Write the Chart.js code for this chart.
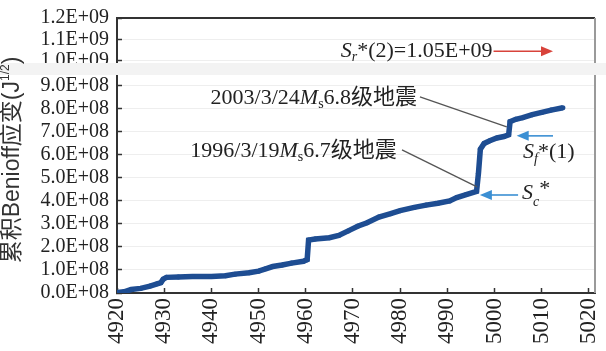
<!DOCTYPE html>
<html>
<head>
<meta charset="utf-8">
<title>累积Benioff应变</title>
<script src="https://cdn.jsdelivr.net/npm/chart.js@4.4.0/dist/chart.umd.min.js"></script>
<style>
	html, body { margin: 0; padding: 0; background: #fff; }
</style>
</head>
<body>
<canvas id="myChart" width="606" height="351"></canvas>
<script>
// data (strain in units of 1E+08)
const years = [4920.0, 4921.5, 4923.0, 4925.0, 4927.0, 4928.5, 4929.3, 4929.8, 4930.5, 4933.0,
	4936.0, 4940.0, 4943.0, 4945.0, 4948.0, 4950.0, 4951.5, 4953.0, 4955.0, 4957.0,
	4959.5, 4960.3, 4960.6, 4962.0, 4965.0, 4967.0, 4969.0, 4971.0, 4973.0, 4975.5,
	4978.0, 4980.0, 4983.0, 4985.5, 4988.0, 4990.5, 4992.0, 4994.0, 4996.2, 4996.6,
	4997.0, 4997.8, 4999.0, 5000.5, 5002.0, 5003.0, 5003.3, 5004.5, 5006.0, 5008.0,
	5010.0, 5012.0, 5014.5];
const strain = [0.02, 0.05, 0.15, 0.20, 0.30, 0.40, 0.45, 0.60, 0.68, 0.70,
	0.72, 0.72, 0.75, 0.82, 0.88, 0.95, 1.05, 1.15, 1.22, 1.30,
	1.38, 1.45, 2.30, 2.35, 2.40, 2.50, 2.70, 2.90, 3.05, 3.30,
	3.45, 3.58, 3.72, 3.82, 3.90, 4.00, 4.15, 4.28, 4.42, 5.20,
	6.25, 6.50, 6.62, 6.74, 6.80, 6.88, 7.45, 7.55, 7.62, 7.75,
	7.85, 7.95, 8.05];
const xTicks = [4920, 4930, 4940, 4950, 4960, 4970, 4980, 4990, 5000, 5010, 5020];
const lowTicks = [0, 1, 2, 3, 4, 5, 6, 7, 8, 9];
const topTicks = [10, 11, 12];

// annotations, in data units
const quakes = [
	{ date: '2003/3/24', mag: '6.8', textX: 4983.6, textY: 8.48, fromX: 4984.2, fromY: 8.52, toX: 5002.6, toY: 7.22 },
	{ date: '1996/3/19', mag: '6.7', textX: 4979.3, textY: 6.17, fromX: 4980.4, fromY: 6.22, toX: 4996.3, toY: 4.61 }
];
const sfArrow = { from: 5012.4, to: 5004.7, y: 6.83 };
const scArrow = { from: 5005.0, to: 4996.9, y: 4.26 };
const srArrow = { from: 4999.8, to: 5012.4, y: 10.45, label: '*(2)=1.05E+09' };

const serif = '"Liberation Serif", "Noto Sans CJK SC", serif';
const sans = '"Liberation Sans", "Noto Sans CJK SC", sans-serif';
function f (size, style) { return (style || '') + ' ' + size + 'px ' + serif; }

// draws pieces of text one after the other: [text, font, dy]
function drawRich (ctx, x, y, parts, align) {
	let w = 0;
	parts.forEach(p => { ctx.font = p[1]; w += ctx.measureText(p[0]).width; });
	let cx = align == 'right' ? x - w : x;
	parts.forEach(p => {
		ctx.font = p[1];
		ctx.fillText(p[0], cx, y + (p[2] || 0));
		cx += ctx.measureText(p[0]).width;
	});
}

function arrow (ctx, x1, y1, x2, y2, color) {
	ctx.strokeStyle = color;
	ctx.fillStyle = color;
	ctx.lineWidth = 1.6;
	const dir = x2 > x1 ? 1 : -1;
	ctx.beginPath();
	ctx.moveTo(x1, y1);
	ctx.lineTo(x2 - dir * 10, y2);
	ctx.stroke();
	ctx.beginPath();
	ctx.moveTo(x2, y2);
	ctx.lineTo(x2 - dir * 12, y2 - 5);
	ctx.lineTo(x2 - dir * 12, y2 + 5);
	ctx.closePath();
	ctx.fill();
}

// no extra padding from the scales, the layout padding alone places the plot
function noPad (s) {
	s.paddingTop = 0;
	s.paddingBottom = 0;
	s.paddingLeft = 0;
	s.paddingRight = 0;
}

const extras = {
	id: 'extras',
	afterDraw (chart) {
		const ctx = chart.ctx;
		const area = chart.chartArea;
		const x = chart.scales.x, y = chart.scales.y, yt = chart.scales.yTop;
		ctx.save();

		// frame: top line and grey right edge
		ctx.strokeStyle = '#333';
		ctx.lineWidth = 2;
		ctx.beginPath();
		ctx.moveTo(area.left - 1, area.top);
		ctx.lineTo(area.right, area.top);
		ctx.stroke();
		ctx.strokeStyle = '#9a9a9a';
		ctx.beginPath();
		ctx.moveTo(area.right, area.top);
		ctx.lineTo(area.right, area.bottom);
		ctx.stroke();

		// axis break band
		ctx.fillStyle = '#f3f3f3';
		ctx.fillRect(0, yt.bottom - 5, chart.width, 12);

		// y title
		ctx.save();
		ctx.translate(13, 160);
		ctx.rotate(-Math.PI / 2);
		ctx.fillStyle = '#333';
		ctx.textBaseline = 'middle';
		ctx.textAlign = 'left';
		const title = [['累积Benioff应变(J', '23px ' + sans], ['1/2', '12px ' + sans, -7], [')', '23px ' + sans]];
		let tw = 0;
		title.forEach(p => { ctx.font = p[1]; tw += ctx.measureText(p[0]).width; });
		drawRich(ctx, -tw / 2, 0, title);
		ctx.restore();

		ctx.textBaseline = 'middle';
		ctx.fillStyle = '#222';

		// earthquake labels with leader lines
		quakes.forEach(q => {
			drawRich(ctx, x.getPixelForValue(q.textX), y.getPixelForValue(q.textY), [
				[q.date, f(22)], ['M', f(22, 'italic')], ['s', f(14), 6], [q.mag + '级地震', f(22)]
			], 'right');
			ctx.strokeStyle = '#555';
			ctx.lineWidth = 1.3;
			ctx.beginPath();
			ctx.moveTo(x.getPixelForValue(q.fromX), y.getPixelForValue(q.fromY));
			ctx.lineTo(x.getPixelForValue(q.toX), y.getPixelForValue(q.toY));
			ctx.stroke();
		});

		// blue arrows
		const blue = '#3b8fd3';
		arrow(ctx, x.getPixelForValue(sfArrow.from), y.getPixelForValue(sfArrow.y), x.getPixelForValue(sfArrow.to), y.getPixelForValue(sfArrow.y), blue);
		arrow(ctx, x.getPixelForValue(scArrow.from), y.getPixelForValue(scArrow.y), x.getPixelForValue(scArrow.to), y.getPixelForValue(scArrow.y), blue);
		ctx.fillStyle = '#222';
		drawRich(ctx, x.getPixelForValue(sfArrow.from) - 30, y.getPixelForValue(sfArrow.y) + 16, [
			['S', f(22, 'italic')], ['f', f(14, 'italic'), 7], ['*(1)', f(22)]
		]);
		drawRich(ctx, x.getPixelForValue(scArrow.from) + 4, y.getPixelForValue(scArrow.y) - 2, [
			['S', f(22, 'italic')], ['c', f(14, 'italic'), 9], ['*', f(22), -4]
		]);

		// red arrow in the upper panel
		const ry = yt.getPixelForValue(srArrow.y);
		arrow(ctx, x.getPixelForValue(srArrow.from), ry, x.getPixelForValue(srArrow.to), ry, '#d8433b');
		ctx.fillStyle = '#222';
		drawRich(ctx, x.getPixelForValue(srArrow.from) - 1, ry, [
			['S', f(22, 'italic')], ['r', f(14, 'italic'), 6], [srArrow.label, f(22)]
		], 'right');

		ctx.restore();
	}
};

var ctx = document.getElementById('myChart').getContext('2d');
var chart = new Chart(ctx, {
	type: 'line',
	data: {
		datasets: [{
			data: years.map((v, i) => ({ x: v, y: strain[i] })),
			yAxisID: 'y',
			borderColor: '#1e4d92',
			backgroundColor: '#1e4d92',
			borderWidth: 5.5,
			pointRadius: 2.5,
			pointBorderWidth: 0,
			tension: 0
		}]
	},
	options: {
		responsive: false,
		animation: false,
		devicePixelRatio: 1,
		layout: { padding: { top: 18, right: 11, left: 0, bottom: 0 } },
		plugins: { legend: { display: false }, tooltip: { enabled: false } },
		scales: {
			x: {
				type: 'linear',
				min: 4920,
				max: 5021.3,
				afterBuildTicks: s => { s.ticks = xTicks.map(v => ({ value: v })); },
				afterFit: s => { s.height = 58; noPad(s); },
				border: { color: '#333', width: 2 },
				grid: { drawOnChartArea: false, tickLength: -5, tickColor: '#333', tickWidth: 1.5 },
				ticks: {
					autoSkip: false, maxRotation: 90, minRotation: 90, padding: 10,
					color: '#222', font: { family: serif, size: 23 },
					callback: v => String(v)
				}
			},
			y: {
				type: 'linear',
				position: 'left',
				stack: 'benioff',
				stackWeight: 225,
				min: 0,
				max: 9.78,
				afterBuildTicks: s => { s.ticks = lowTicks.map(v => ({ value: v })); },
				afterFit: s => { s.width = 117; noPad(s); },
				border: { color: '#333', width: 2 },
				grid: { color: '#eeeeee', tickLength: -5, tickColor: '#333', tickWidth: 1.5 },
				ticks: {
					autoSkip: false,
					padding: 13,
					color: '#222',
					font: { family: serif, size: 20 },
					callback: v => v.toFixed(1) + 'E+08'
				}
			},
			yTop: {
				type: 'linear',
				position: 'left',
				stack: 'benioff',
				stackWeight: 50,
				min: 9.67,
				max: 12,
				afterBuildTicks: s => { s.ticks = topTicks.map(v => ({ value: v })); },
				afterFit: s => { s.width = 117; noPad(s); },
				border: { color: '#333', width: 2 },
				grid: { color: '#eeeeee', tickLength: -5, tickColor: '#333', tickWidth: 1.5 },
				ticks: {
					autoSkip: false,
					padding: 13,
					color: '#222',
					font: { family: serif, size: 20 },
					callback: v => (v / 10).toFixed(1) + 'E+09'
				}
			}
		}
	},
	plugins: [extras]
});
</script>
</body>
</html>
